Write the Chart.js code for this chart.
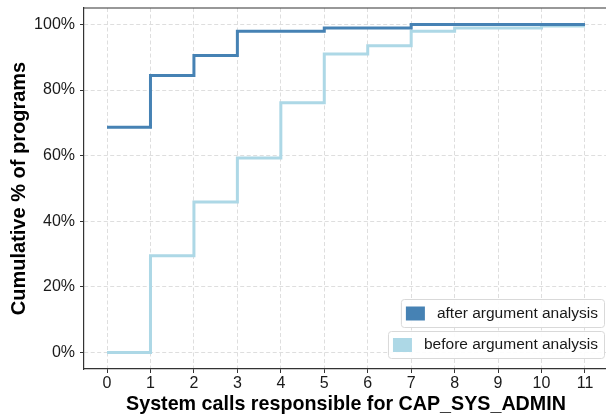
<!DOCTYPE html>
<html>
<head>
<meta charset="utf-8">
<script src="https://cdn.jsdelivr.net/npm/chart.js@4"></script>
<style>
  html, body { margin: 0; padding: 0; background: #fff; overflow: hidden; }
  #wrap { width: 612px; height: 417px; }
</style>
</head>
<body>
<div id="wrap"><canvas id="c" width="612" height="417"></canvas></div>
<script>
// Number of system calls that still need CAP_SYS_ADMIN
const syscallCounts = [0, 1, 2, 3, 4, 5, 6, 7, 8, 9, 10, 11];
// Cumulative share of programs (%)
const afterAnalysis  = [68.7, 84.4, 90.5, 97.9, 97.9, 98.9, 98.9, 100, 100, 100, 100, 100];
const beforeAnalysis = [0, 29.5, 45.9, 59.3, 76.1, 91.0, 93.5, 97.9, 98.9, 98.9, 99.5, 99.5];
const seriesNames = ['after argument analysis', 'before argument analysis'];
const seriesColors = ['#4682B4', '#ADD8E6'];
const yTicks = [0, 20, 40, 60, 80, 100];

const FONT = "'Liberation Sans', Arial, Helvetica, sans-serif";

const toPoints = vals => syscallCounts.map((x, i) => ({ x: x, y: vals[i] }));

// Top spine and the two framed legend entries
const decorations = {
  id: 'decorations',
  afterDraw(chart) {
    const { ctx, chartArea: a } = chart;
    ctx.save();
    ctx.strokeStyle = '#333';
    ctx.lineWidth = 1.2;
    ctx.beginPath();
    ctx.moveTo(a.left, a.top);
    ctx.lineTo(a.right, a.top);
    ctx.stroke();

    ctx.font = '15.5px ' + FONT;
    ctx.textBaseline = 'middle';
    const right = a.right - 4;
    const rows = [
      { top: a.bottom - 70, h: 28 },
      { top: a.bottom - 38, h: 27 }
    ];
    chart.data.datasets.forEach((ds, i) => {
      const r = rows[i];
      const tw = ctx.measureText(ds.label).width;
      const w = 5 + 19 + 12 + tw + 6;
      const left = right - w;
      ctx.beginPath();
      ctx.roundRect(left + 0.5, r.top + 0.5, w, r.h, 3);
      ctx.fillStyle = 'rgba(255,255,255,0.9)';
      ctx.fill();
      ctx.strokeStyle = '#d9d9d9';
      ctx.lineWidth = 1;
      ctx.stroke();
      const cy = r.top + r.h / 2 + 0.5;
      ctx.fillStyle = ds.borderColor;
      ctx.fillRect(left + 5, cy - 7, 19, 14);
      ctx.fillStyle = '#1a1a1a';
      ctx.textAlign = 'left';
      ctx.fillText(ds.label, left + 5 + 19 + 12, cy);
    });
    ctx.restore();
  }
};

const gridStyle = {
  color: '#dedede',
  lineWidth: 1,
  drawTicks: true,
  tickLength: 4,
  tickColor: '#333',
  tickBorderDash: []
};

new Chart(document.getElementById('c'), {
  type: 'line',
  data: {
    datasets: [
      {
        label: seriesNames[0],
        data: toPoints(afterAnalysis),
        borderColor: seriesColors[0],
        backgroundColor: seriesColors[0],
        borderWidth: 3,
        stepped: 'before',
        pointRadius: 0,
        fill: false
      },
      {
        label: seriesNames[1],
        data: toPoints(beforeAnalysis),
        borderColor: seriesColors[1],
        backgroundColor: seriesColors[1],
        borderWidth: 3,
        stepped: 'before',
        pointRadius: 0,
        fill: false
      }
    ]
  },
  options: {
    responsive: false,
    animation: false,
    layout: { padding: { top: 8, right: 4, bottom: 0, left: 0 } },
    plugins: {
      legend: { display: false },
      tooltip: { enabled: false }
    },
    scales: {
      x: {
        type: 'linear',
        min: -0.53,
        max: 11.53,
        afterBuildTicks: s => { s.ticks = syscallCounts.map(v => ({ value: v })); },
        afterFit: s => { s.height = 48; s.paddingLeft = 0; s.paddingRight = 0; },
        ticks: {
          font: { family: FONT, size: 16 },
          color: '#1a1a1a',
          padding: 1,
          maxRotation: 0,
          autoSkip: false
        },
        grid: gridStyle,
        border: { display: true, color: '#333', width: 1.2, dash: [4, 2.5] },
        title: {
          display: true,
          text: 'System calls responsible for CAP_SYS_ADMIN',
          font: { family: FONT, size: 19.7, weight: 'bold' },
          color: '#000',
          padding: { top: 0, bottom: 1 }
        }
      },
      y: {
        type: 'linear',
        min: -5,
        max: 105,
        afterBuildTicks: s => { s.ticks = yTicks.map(v => ({ value: v })); },
        afterFit: s => { s.width = 84; s.paddingTop = 0; s.paddingBottom = 0; },
        ticks: {
          font: { family: FONT, size: 16 },
          color: '#1a1a1a',
          padding: 5,
          callback: v => v + '%'
        },
        grid: gridStyle,
        border: { display: true, color: '#333', width: 1.2, dash: [4, 2.5] },
        title: {
          display: true,
          text: 'Cumulative % of programs',
          font: { family: FONT, size: 20, weight: 'bold' },
          color: '#000',
          padding: { top: 7.5, bottom: 0 }
        }
      }
    }
  },
  plugins: [decorations]
});
</script>
</body>
</html>
